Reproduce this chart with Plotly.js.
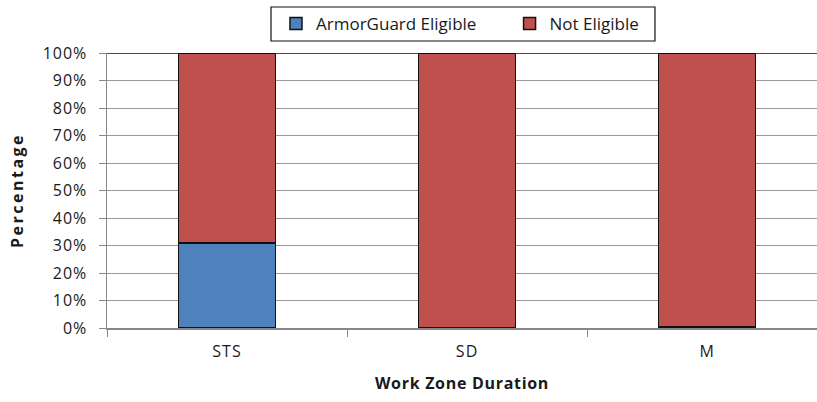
<!DOCTYPE html>
<html>
<head>
<meta charset="utf-8">
<script src="https://cdn.plot.ly/plotly-3.0.1.min.js"></script>
<style>
html,body{margin:0;padding:0;background:#fff;}
#chart{width:817px;height:402px;}
#chart .ytitle{letter-spacing:2.5px;}
#chart .xtitle{letter-spacing:0.7px;}
#chart .xtick text, #chart .ytick text{letter-spacing:1px;}
</style>
</head>
<body>
<div id="chart"></div>
<script>
var categories = ["STS", "SD", "M"];
var eligible = [0.31, 0.0, 0.005];
var notEligible = [0.69, 1.0, 0.995];
var seriesNames = ["ArmorGuard Eligible", "Not Eligible"];

var FONT = "'Open Sans', sans-serif";
var TXT = "#1a1a1a";
var traces = [
  {type: "bar", name: seriesNames[0], x: categories, y: eligible, width: 0.405, legend: "legend",
   marker: {color: "#4F81BD", line: {color: "#111", width: 1.5}}},
  {type: "bar", name: seriesNames[1], x: categories, y: notEligible, width: 0.405, legend: "legend2",
   marker: {color: "#C0504D", line: {color: "#111", width: 1.5}}}
];
var legendBase = {orientation: "h", yanchor: "middle", xanchor: "left", y: 1.1055,
  bgcolor: "rgba(0,0,0,0)", borderwidth: 0, itemwidth: 30,
  font: {family: FONT, size: 17, color: TXT}};
var layout = {
  width: 817, height: 402,
  margin: {l: 107, r: 0, t: 53, b: 74},
  barmode: "stack",
  paper_bgcolor: "#fff", plot_bgcolor: "#fff",
  font: {family: FONT, size: 16, color: TXT},
  showlegend: true,
  legend: Object.assign({}, legendBase, {x: 0.238}),
  legend2: Object.assign({}, legendBase, {x: 0.567}),
  xaxis: {type: "category", range: [-0.5, 2.458], showgrid: false,
          showline: true, linecolor: "#888", linewidth: 1.5,
          ticks: "outside", tickson: "boundaries", ticklen: 7, tickcolor: "#888",
          ticklabelstandoff: 8,
          tickfont: {family: FONT, size: 16, color: TXT},
          title: {text: "<b>Work Zone Duration</b>", font: {family: FONT, size: 16, color: TXT}, standoff: 17}},
  yaxis: {range: [0, 1], dtick: 0.1, tickformat: ".0%", showgrid: true, gridcolor: "#999", gridwidth: 1,
          showline: true, linecolor: "#888", linewidth: 1.5, zeroline: false,
          ticks: "outside", ticklen: 7, tickcolor: "#888",
          ticklabelstandoff: 8,
          tickfont: {family: FONT, size: 16, color: TXT},
          title: {text: "<b>Percentage</b>", font: {family: FONT, size: 16, color: TXT}, standoff: 19}},
  shapes: [
    {type: "line", xref: "paper", yref: "y", x0: 0, x1: 1, y0: 1, y1: 1, line: {color: "#111", width: 1.5}},
    {type: "rect", xref: "paper", yref: "paper", x0: 0.231, x1: 0.7718, y0: 1.0436, y1: 1.1673,
     line: {color: "#111", width: 1.2}, fillcolor: "rgba(0,0,0,0)"}
  ]
};
Plotly.newPlot("chart", traces, layout, {displayModeBar: false, staticPlot: true});
</script>
</body>
</html>
